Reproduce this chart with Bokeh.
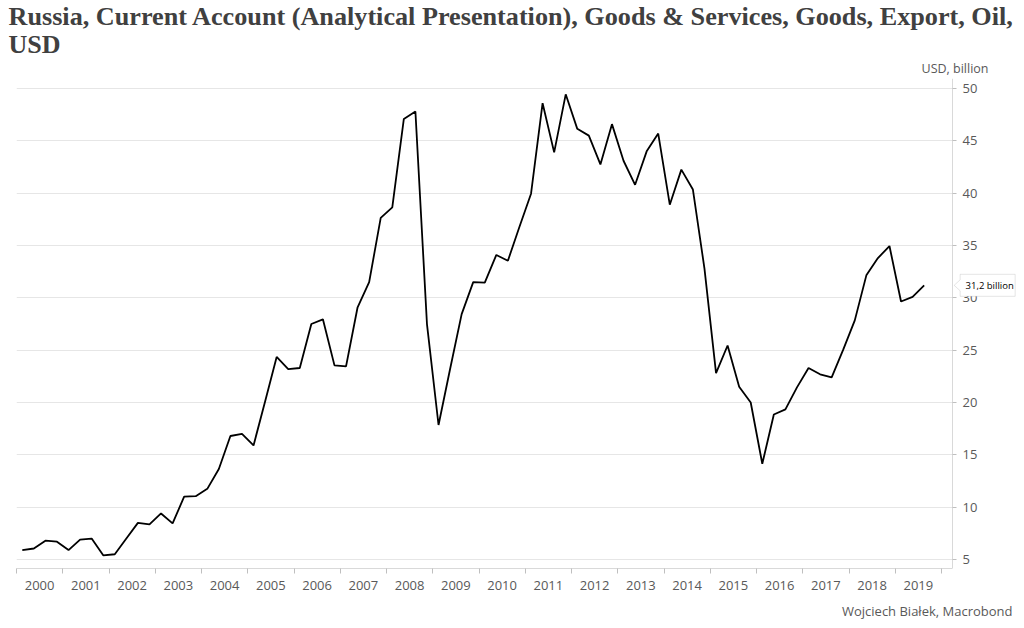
from bokeh.plotting import figure
from bokeh.models import (Range1d, FixedTicker, Label, PolyAnnotation, ColumnDataSource,
                          Title, BoxAnnotation)
from bokeh.embed import file_html
from bokeh.resources import INLINE

# ---- data ----
years = list(range(2000, 2020))
quarters = [(y, q) for y in years for q in (1, 2, 3, 4)][:79]
oil_exports = [
    5.9, 6.05, 6.8, 6.7,
    5.9, 6.9, 7.0, 5.4,
    5.5, 7.0, 8.5, 8.35,
    9.4, 8.45, 11.0, 11.05,
    11.75, 13.65, 16.8, 17.0,
    15.9, 20.1, 24.35, 23.2,
    23.3, 27.5, 27.95, 23.55,
    23.45, 29.1, 31.5, 37.65,
    38.65, 47.1, 47.8, 27.5,
    17.85, 23.2, 28.45, 31.5,
    31.45, 34.1, 33.55, 36.8,
    39.95, 48.6, 43.9, 49.45,
    46.15, 45.5, 42.75, 46.6,
    43.1, 40.8, 44.0, 45.7,
    38.9, 42.25, 40.35, 32.8,
    22.8, 25.45, 21.5, 20.0,
    14.15, 18.85, 19.35, 21.45,
    23.3, 22.7, 22.4, 25.05,
    27.85, 32.15, 33.8, 34.95,
    29.65, 30.1, 31.2,
]
y_ticks = [5, 10, 15, 20, 25, 30, 35, 40, 45, 50]
year_labels = [str(y) for y in years]

title_line1 = "Russia, Current Account (Analytical Presentation), Goods & Services, Goods, Export, Oil,"
title_line2 = "USD"
unit_label = "USD, billion"
source_label = "Wojciech Białek, Macrobond"

# ---- geometry (style) ----
W, H = 1016, 628
FRAME_W, FRAME_H = 1000, 490
X0, AXIS_X = 2000, 2020.24           # data span covered by the x axis
X1 = X0 + FRAME_W / 46.25             # frame extends past the y axis (room for callout)
Y0, Y1 = 4.14, 50.96
PX = (X1 - X0) / FRAME_W              # one pixel in x data units
PY = (Y1 - Y0) / FRAME_H              # one pixel in y data units

x = [y + (q - 0.5) / 4 for (y, q) in quarters]
src = ColumnDataSource(dict(x=x, v=oil_exports))

p = figure(width=W, height=H, output_backend="svg", toolbar_location=None, title=None,
           x_range=Range1d(X0, X1), y_range=Range1d(Y0, Y1),
           y_axis_location="right",
           min_border_left=16, min_border_top=78, min_border_right=0, min_border_bottom=60)
p.outline_line_color = None
p.background_fill_color = "white"
p.border_fill_color = "white"

# grid lines stop at the y axis: white cover to the right of it
p.ygrid.ticker = FixedTicker(ticks=y_ticks)
p.ygrid.grid_line_color = "#e6e6e6"
p.ygrid.grid_line_width = 1
p.xgrid.grid_line_color = None
p.add_layout(BoxAnnotation(left=AXIS_X, fill_color="white", fill_alpha=1.0,
                           line_color=None, level="glyph"))

p.line("x", "v", source=src, line_color="black", line_width=1.8)

# x axis: labels mid-year, ticks at year boundaries
xa = p.xaxis[0]
xa.bounds = (X0, AXIS_X)
xa.ticker = FixedTicker(ticks=[y + 0.5 for y in years],
                        minor_ticks=list(range(2000, 2021)))
xa.major_label_overrides = {y + 0.5: lab for y, lab in zip(years, year_labels)}
xa.major_tick_out = 0
xa.major_tick_in = 0
xa.minor_tick_out = 5
xa.minor_tick_in = 0
xa.minor_tick_line_color = "#bfbfbf"
xa.axis_line_color = "#d9d9d9"
xa.major_label_standoff = 7
xa.major_label_text_font = "Open Sans"
xa.major_label_text_font_size = "13px"
xa.major_label_text_color = "#595959"

ya = p.yaxis[0]
ya.fixed_location = AXIS_X
ya.ticker = FixedTicker(ticks=y_ticks)
ya.major_tick_out = 4
ya.major_tick_in = 0
ya.minor_tick_out = 0
ya.minor_tick_in = 0
ya.major_tick_line_color = "#bfbfbf"
ya.axis_line_color = "#d9d9d9"
ya.major_label_standoff = 6
ya.major_label_text_font = "Open Sans"
ya.major_label_text_font_size = "13px"
ya.major_label_text_color = "#595959"

# ---- titles (side panels, not clipped) ----
p.add_layout(Title(text=unit_label, align="right", offset=28, standoff=2.6,
                   text_font="Open Sans", text_font_size="12.5px", text_font_style="normal",
                   text_color="#595959"), "above")
p.add_layout(Title(text=title_line2, align="left", offset=-8, standoff=-4.6,
                   text_font="Liberation Serif", text_font_style="bold", text_font_size="26px",
                   text_color="#404040"), "above")
p.add_layout(Title(text=title_line1, align="left", offset=-8, standoff=-1,
                   text_font="Liberation Serif", text_font_style="bold", text_font_size="26.2px",
                   text_color="#404040"), "above")
p.add_layout(Title(text=source_label, align="right", offset=4, standoff=14,
                   text_font="Open Sans", text_font_size="13px", text_font_style="normal",
                   text_color="#595959"), "below")

# ---- last value callout ----
last_x, last = x[-1], oil_exports[-1]
tip = last_x + 30 * PX
bl = last_x + 36 * PX
br = last_x + 91 * PX
hh = 11 * PY
ph = 5.5 * PY
p.add_layout(PolyAnnotation(
    xs=[tip, bl, bl, br, br, bl, bl], xs_units="data",
    ys=[last, last - ph, last - hh, last - hh, last + hh, last + hh, last + ph], ys_units="data",
    fill_color="white", fill_alpha=1.0, line_color="#a6a6a6", line_width=1))
p.add_layout(Label(x=last_x + 65.5 * PX, y=last, x_units="data", y_units="data",
                   text=f"{last:.1f}".replace(".", ",") + " billion",
                   text_font="Open Sans", text_font_size="9.5px", text_color="black",
                   text_align="center", text_baseline="middle"))

open("out.html", "w").write(file_html(p, INLINE))
